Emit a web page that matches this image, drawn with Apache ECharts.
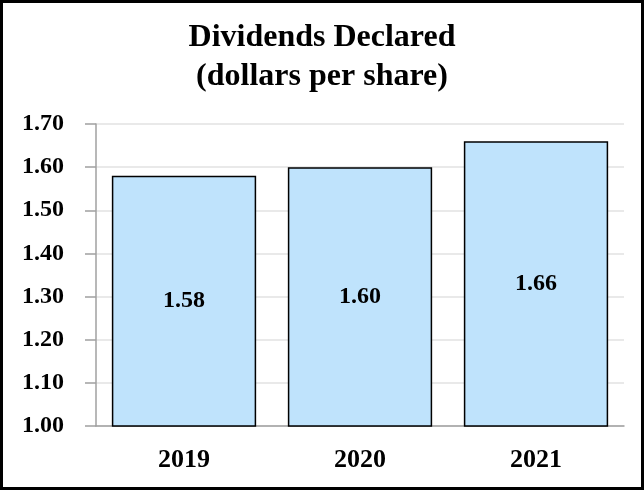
<!DOCTYPE html>
<html><head><meta charset="utf-8">
<script src="https://cdn.jsdelivr.net/npm/echarts@6/dist/echarts.min.js"></script>
<style>html,body{margin:0;padding:0;background:#fff}#c{width:644px;height:490px}</style>
</head><body><div id="c"></div>
<script>
const categories = ['2019', '2020', '2021'];
const dividends = [1.58, 1.60, 1.66];
const titleLines = ['Dividends Declared', '(dollars per share)'];

const chart = echarts.init(document.getElementById('c'), null, {renderer: 'canvas'});
const font = '"Liberation Serif", "Times New Roman", serif';
chart.setOption({
  animation: false,
  backgroundColor: '#fff',
  title: {
    text: titleLines.join('\n'),
    left: 'center', top: 13,
    textStyle: {fontFamily: font, fontWeight: 'bold', fontSize: 32, color: '#000', lineHeight: 39}
  },
  graphic: [{type: 'rect', shape: {x: 1.5, y: 1.5, width: 641, height: 487}, style: {fill: 'none', stroke: '#000', lineWidth: 3}, silent: true}],
  grid: {left: 96, right: 20, top: 124, bottom: 64},
  xAxis: {
    type: 'category', data: categories,
    axisLine: {lineStyle: {color: '#a0a0a0', width: 1.5}},
    axisTick: {alignWithLabel: true, length: 10, lineStyle: {color: '#a0a0a0', width: 1.5}},
    axisLabel: {fontFamily: font, fontWeight: 'bold', fontSize: 26, color: '#000', margin: 21}
  },
  yAxis: {
    type: 'value', min: 1.0, max: 1.7, interval: 0.1,
    axisLine: {show: true, lineStyle: {color: '#a0a0a0', width: 1.5}},
    axisTick: {show: true, length: 11, lineStyle: {color: '#a0a0a0', width: 1.5}},
    splitLine: {lineStyle: {color: '#e2e2e2', width: 1.5}},
    axisLabel: {fontFamily: font, fontWeight: 'bold', fontSize: 24, color: '#000', margin: 32,
      formatter: v => v.toFixed(2)}
  },
  series: [{
    type: 'bar', data: dividends, barWidth: '82%',
    itemStyle: {color: '#bfe3fc', borderColor: '#000', borderWidth: 1.5},
    label: {show: true, position: 'inside', fontFamily: font, fontWeight: 'bold', fontSize: 24, color: '#000',
      formatter: p => p.value.toFixed(2)}
  }]
});
</script></body></html>
